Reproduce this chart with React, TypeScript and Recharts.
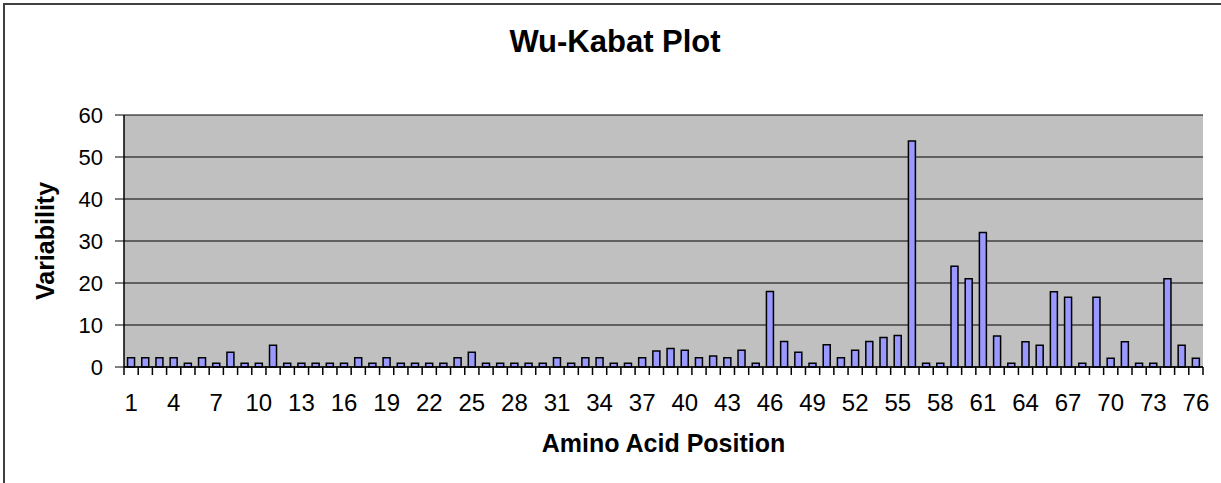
import { Bar, BarChart, CartesianGrid, XAxis, YAxis } from "recharts";

const FONT = "'Liberation Sans', Arial, sans-serif";

// Amino acid positions 1..76
const positions = [
  1, 2, 3, 4, 5, 6, 7, 8, 9, 10, 11, 12, 13, 14, 15, 16, 17, 18, 19, 20,
  21, 22, 23, 24, 25, 26, 27, 28, 29, 30, 31, 32, 33, 34, 35, 36, 37, 38, 39, 40,
  41, 42, 43, 44, 45, 46, 47, 48, 49, 50, 51, 52, 53, 54, 55, 56, 57, 58, 59, 60,
  61, 62, 63, 64, 65, 66, 67, 68, 69, 70, 71, 72, 73, 74, 75, 76,
];

// Wu-Kabat variability
const variability = [
  2.2, 2.2, 2.2, 2.2, 0.9, 2.2, 0.9, 3.5, 0.9, 0.9, 5.2, 0.9, 0.9, 0.9, 0.9, 0.9, 2.2, 0.9, 2.2, 0.9,
  0.9, 0.9, 0.9, 2.2, 3.5, 0.9, 0.9, 0.9, 0.9, 0.9, 2.2, 0.9, 2.2, 2.2, 0.9, 0.9, 2.2, 3.8, 4.4, 4.0,
  2.2, 2.6, 2.2, 4.0, 0.9, 18.0, 6.1, 3.5, 0.9, 5.3, 2.2, 4.0, 6.1, 7.0, 7.5, 53.8, 0.9, 0.9, 24.0, 21.0,
  32.0, 7.4, 0.9, 6.0, 5.2, 17.9, 16.6, 0.9, 16.6, 2.1, 6.0, 0.9, 0.9, 21.0, 5.2, 2.1,
];

const yTicks = [0, 10, 20, 30, 40, 50, 60];

const data = positions.map((pos, i) => ({ pos, value: variability[i] }));

// plot spans x 124..1203 -> half a category band
const HALF_BAND = (1221 - 124 - 18) / positions.length / 2;

// Excel-style ticks: marks on category boundaries, a label on every third category
function PositionTick(props: any) {
  const { x, y, payload, index } = props;
  const off = Number(payload?.offset);
  const half = Number.isFinite(off) && off > 0 ? off : HALF_BAND;
  const last = index === positions.length - 1;
  return (
    <g>
      <line x1={x - half} x2={x - half} y1={y - 8} y2={y} stroke="#000" strokeWidth={1.5} />
      {last && <line x1={x + half} x2={x + half} y1={y - 8} y2={y} stroke="#000" strokeWidth={1.5} />}
      {index % 3 === 0 && (
        <text x={x} y={y + 36} textAnchor="middle" fontSize={24} fontFamily={FONT} fill="#000">
          {payload.value}
        </text>
      )}
    </g>
  );
}

export default function App() {
  return (
    <div
      style={{
        position: "absolute",
        left: 0,
        top: 0,
        width: 1221,
        height: 483,
        overflow: "hidden",
        background: "#fff",
      }}
    >
      <div
        style={{
          position: "absolute",
          left: 3,
          top: 3,
          width: 1260,
          height: 520,
          border: "2px solid #404040",
        }}
      />
      <div
        style={{
          position: "absolute",
          left: 0,
          top: 26,
          width: 1230,
          textAlign: "center",
          fontFamily: FONT,
          fontWeight: "bold",
          fontSize: 31,
          lineHeight: "31px",
          color: "#000",
        }}
      >
        Wu-Kabat Plot
      </div>
      <div style={{ position: "absolute", left: 0, top: 0 }}>
        <BarChart
          width={1221}
          height={483}
          data={data}
          margin={{ top: 115, right: 18, bottom: 0, left: 0 }}
          barCategoryGap="25%"
        >
          <CartesianGrid vertical={false} fill="#C0C0C0" stroke="#000" strokeWidth={1} />
          <XAxis
            dataKey="pos"
            height={116}
            interval={0}
            tickSize={8}
            tickMargin={0}
            tickLine={{ stroke: "none" }}
            axisLine={{ stroke: "#000", strokeWidth: 1.5 }}
            tick={<PositionTick />}
            label={{
              value: "Amino Acid Position",
              position: "insideBottom",
              offset: 31,
              style: { fontFamily: FONT, fontWeight: "bold", fontSize: 25, fill: "#000" },
            }}
          />
          <XAxis
            xAxisId="top"
            dataKey="pos"
            orientation="top"
            height={0}
            tick={false}
            tickLine={false}
            axisLine={{ stroke: "#808080", strokeWidth: 2 }}
          />
          <YAxis
            domain={[0, 60]}
            ticks={yTicks}
            width={124}
            tickSize={9}
            tickMargin={12}
            axisLine={{ stroke: "#000", strokeWidth: 1.5 }}
            tickLine={{ stroke: "#000" }}
            tick={{ fontSize: 22, fontFamily: FONT, fill: "#000" }}
            label={{
              value: "Variability",
              angle: -90,
              position: "insideLeft",
              offset: 45,
              style: { textAnchor: "middle", fontFamily: FONT, fontWeight: "bold", fontSize: 25, fill: "#000" },
            }}
          />
          <YAxis
            yAxisId="right"
            orientation="right"
            width={0}
            domain={[0, 60]}
            tick={false}
            tickLine={false}
            axisLine={{ stroke: "#808080", strokeWidth: 2 }}
          />
          <Bar
            dataKey="value"
            fill="#9999FF"
            stroke="#000"
            strokeWidth={1.5}
            isAnimationActive={false}
          />
        </BarChart>
      </div>
    </div>
  );
}
